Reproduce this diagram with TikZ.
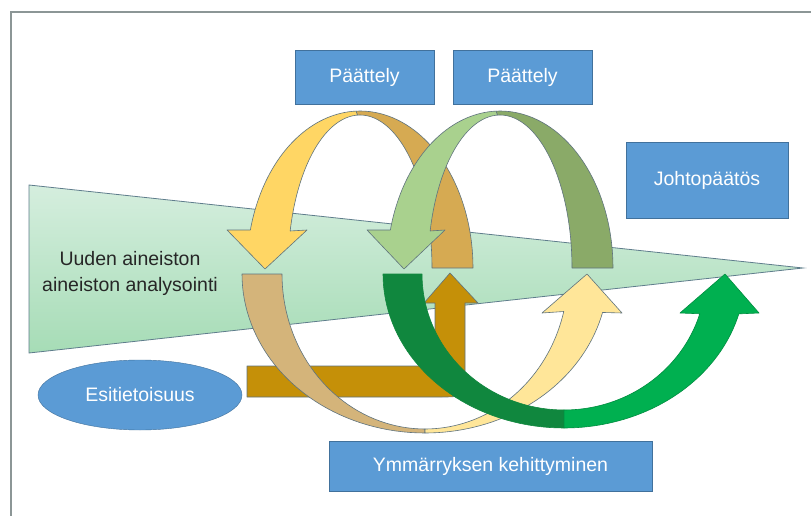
\documentclass[tikz,border=0pt]{standalone}
\usepackage{fontspec}
\setmainfont{Liberation Sans}
\usetikzlibrary{shapes.geometric}

\definecolor{boxblue}{RGB}{91,155,213}
\definecolor{boxedge}{RGB}{65,113,156}
\definecolor{framegray}{RGB}{140,150,150}
\definecolor{trilight}{RGB}{213,238,222}
\definecolor{tridark}{RGB}{166,220,182}
\definecolor{triedge}{RGB}{95,125,140}
\definecolor{arrowedge}{RGB}{95,115,125}
\definecolor{yellowa}{RGB}{255,214,100}
\definecolor{tana}{RGB}{214,170,82}
\definecolor{lgreenb}{RGB}{169,209,142}
\definecolor{ogreenb}{RGB}{138,170,104}
\definecolor{tanc}{RGB}{212,180,122}
\definecolor{pyellowc}{RGB}{255,230,153}
\definecolor{dgreend}{RGB}{16,135,62}
\definecolor{bgreend}{RGB}{0,176,80}
\definecolor{browne}{RGB}{197,144,8}

\begin{document}
\begin{tikzpicture}[x=1pt, y=-1pt, samples=40]

% top loops (centre, outer and inner radii)
\def\cxa{360}
\def\cxb{500}
\def\cyab{268}
\def\aoab{113}
\def\boab{157}
\def\aiab{72}
\def\biab{153}

% bottom loops
\def\cxc{425}
\def\cyc{274}
\def\aoc{183}
\def\boc{159}
\def\aic{143}
\def\bic{155}

\def\cxd{564}
\def\cyd{274}
\def\aod{181}
\def\bod{154}
\def\aid{142}
\def\bid{136}

\tikzset{declare function={ringx(\t,\c,\r)=\c+\r*cos(\t);}}
\tikzset{declare function={ringy(\t,\c,\r)=\c-\r*sin(\t);}}

\tikzset{infobox/.style={draw=boxedge, fill=boxblue, text=white, inner sep=0pt,
                         font=\fontsize{19.5}{23}\selectfont}}
\tikzset{band/.style={draw=arrowedge, line width=0.6pt, line join=round}}

\useasboundingbox (0,0) rectangle (811,516);
\fill[white] (0,0) rectangle (811,516);

% frame
\draw[framegray, line width=1.2pt] (11,12) rectangle (840,540);

% wedge
\draw[triedge, line width=0.8pt, top color=trilight, bottom color=tridark]
  (29,185) -- (803,268) -- (29,353) -- cycle;
\node[text=black!85, align=center, font=\fontsize{19.5}{26}\selectfont]
  (analyysi) at (130,273) {Uuden aineiston\\aineiston analysointi};

% bent arrow from Esitietoisuus
\draw[band, fill=browne] (247,366) -- (435,366) -- (435,303) -- (424,303)
  -- (450,273) -- (478,303) -- (465,303) -- (465,372)
  .. controls (465,397) .. (440,397) -- (247,397) -- cycle;

% bottom loop, left
\draw[band, fill=tanc]
  plot[domain=180:270]({ringx(\x,\cxc,\aoc)}, {ringy(\x,\cyc,\boc)})
  -- plot[domain=270:180]({ringx(\x,\cxc,\aic)}, {ringy(\x,\cyc,\bic)}) -- cycle;
\draw[band, fill=pyellowc]
  plot[domain=270:346]({ringx(\x,\cxc,\aoc)}, {ringy(\x,\cyc,\boc)})
  -- (622,313) -- (587,274) -- (542,313)
  -- plot[domain=346:270]({ringx(\x,\cxc,\aic)}, {ringy(\x,\cyc,\bic)}) -- cycle;

% bottom loop, right
\draw[band, draw=dgreend, fill=dgreend]
  plot[domain=180:270]({ringx(\x,\cxd,\aod)}, {ringy(\x,\cyd,\bod)})
  -- plot[domain=270:180]({ringx(\x,\cxd,\aid)}, {ringy(\x,\cyd,\bid)}) -- cycle;
\draw[band, draw=bgreend!80!black, fill=bgreend]
  plot[domain=270:345]({ringx(\x,\cxd,\aod)}, {ringy(\x,\cyd,\bod)})
  -- (759,313) -- (725,274) -- (680,313)
  -- plot[domain=343:270]({ringx(\x,\cxd,\aid)}, {ringy(\x,\cyd,\bid)}) -- cycle;

% top loop, left
\draw[band, fill=tana]
  plot[domain=0:92]({ringx(\x,\cxa,\aoab)}, {ringy(\x,\cyab,\boab)})
  -- plot[domain=92:0]({ringx(\x,\cxa,\aiab)}, {ringy(\x,\cyab,\biab)}) -- cycle;
\draw[band, fill=yellowa]
  plot[domain=92:166]({ringx(\x,\cxa,\aoab)}, {ringy(\x,\cyab,\boab)})
  -- (227,230) -- (265,269) -- (307,230)
  -- plot[domain=166:92]({ringx(\x,\cxa,\aiab)}, {ringy(\x,\cyab,\biab)}) -- cycle;

% top loop, right
\draw[band, fill=ogreenb]
  plot[domain=0:92]({ringx(\x,\cxb,\aoab)}, {ringy(\x,\cyab,\boab)})
  -- plot[domain=92:0]({ringx(\x,\cxb,\aiab)}, {ringy(\x,\cyab,\biab)}) -- cycle;
\draw[band, fill=lgreenb]
  plot[domain=92:166]({ringx(\x,\cxb,\aoab)}, {ringy(\x,\cyab,\boab)})
  -- (367,230) -- (404,269) -- (445,230)
  -- plot[domain=166:92]({ringx(\x,\cxb,\aiab)}, {ringy(\x,\cyab,\biab)}) -- cycle;

% labels
\node[infobox, minimum width=139pt, minimum height=54pt] (paattelya) at (364.5,77) {Päättely};
\node[infobox, minimum width=139pt, minimum height=54pt] (paattelyb) at (522.5,77) {Päättely};
\node[infobox, minimum width=162pt, minimum height=76pt] (johto) at (707,180) {Johtopäätös};
\node[infobox, ellipse, minimum width=204pt, minimum height=70pt] (esitieto) at (140,395) {Esitietoisuus};
\node[infobox, minimum width=323pt, minimum height=50pt] (ymmarrys) at (490.5,466) {Ymmärryksen kehittyminen};

\end{tikzpicture}
\end{document}
